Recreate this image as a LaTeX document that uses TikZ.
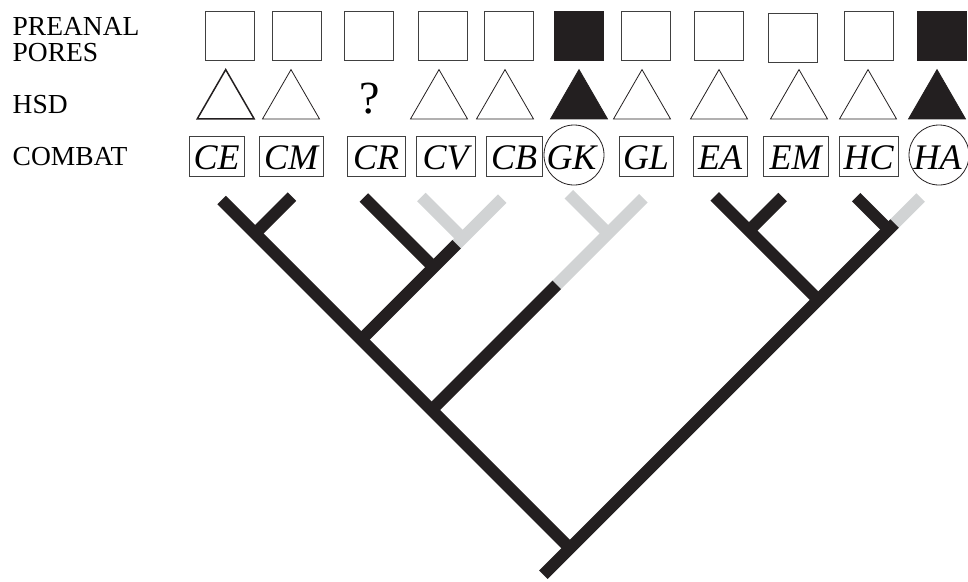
\documentclass[tikz,border=0pt]{standalone}
\usepackage{fontspec}
\setmainfont{Liberation Serif}
\usetikzlibrary{shapes.geometric}
\definecolor{ink}{HTML}{231F20}
\definecolor{pale}{HTML}{D1D3D4}
\begin{document}
\begin{tikzpicture}[x=1pt,y=-1pt,
  lab/.style={font=\fontsize{27.5}{26}\selectfont, inner sep=0pt, anchor=base west, align=left},
  sqbox/.style={draw=black!75, line width=1pt, minimum size=49pt, inner sep=0pt},
  sqfill/.style={sqbox, fill=ink, draw=ink},
  tri/.style={regular polygon, regular polygon sides=3, minimum size=65.8pt, inner sep=0pt, draw=ink, line width=0.8pt},
  trifill/.style={tri, fill=ink},
  taxc/.style={font=\fontsize{36}{40}\selectfont\itshape, inner sep=0pt, text height=33pt, text depth=7pt, anchor=base},
  taxon/.style={taxc, draw=black!75, line width=0.9pt},
  ring/.style={draw=ink, line width=0.8pt},
  branch/.style={draw=ink, line width=12pt},
  gbranch/.style={draw=pale, line width=12pt}]
\useasboundingbox (0,0) rectangle (968,581);

% row labels
\node[lab] (pre) at (12.5,61) {PREANAL\\PORES};
\node[lab] (hsd) at (12.5,113.3) {HSD};
\node[lab] (cmb) at (12.5,165.7) {COMBAT};

% preanal pores
\node[sqbox]  (p1)  at (229.5,35.5) {};
\node[sqbox]  (p2)  at (296.5,35.5) {};
\node[sqbox]  (p3)  at (368.5,35.5) {};
\node[sqbox]  (p4)  at (442.5,35.5) {};
\node[sqbox]  (p5)  at (508.5,35.5) {};
\node[sqfill] (p6)  at (578.5,35.5) {};
\node[sqbox]  (p7)  at (645.5,35.5) {};
\node[sqbox]  (p8)  at (718.5,35.5) {};
\node[sqbox]  (p9)  at (792.5,37.5) {};
\node[sqbox]  (p10) at (869,35.5) {};
\node[sqfill] (p11) at (941.5,35.5) {};

% HSD
\node[tri, line width=1.5pt] (h1) at (225.7,102.5) {};
\node[tri]     (h2)  at (291,102.5) {};
\node[font=\fontsize{46}{46}\selectfont, inner sep=0pt, anchor=base] (h3) at (370,113.3) {?};
\node[tri]     (h4)  at (439,102.5) {};
\node[tri]     (h5)  at (505,102.5) {};
\node[trifill] (h6)  at (579,102.5) {};
\node[tri]     (h7)  at (642,102.5) {};
\node[tri]     (h8)  at (719,102.5) {};
\node[tri]     (h9)  at (799,102.5) {};
\node[tri]     (h10) at (868,102.5) {};
\node[trifill] (h11) at (937,102.5) {};

% combat
\node[taxon, minimum width=55pt] (CE) at (216.5,169) {CE};
\node[taxon, minimum width=64pt] (CM) at (291,169) {CM};
\node[taxon, minimum width=58pt] (CR) at (376,169) {CR};
\node[taxon, minimum width=59pt] (CV) at (445.5,169) {CV};
\node[taxon, minimum width=56pt] (CB) at (514,169) {CB};
\node[taxc] (GK) at (571.5,169) {GK};
\draw[ring] (574,155) circle (30);
\node[taxon, minimum width=54pt] (GL) at (646,169) {GL};
\node[taxon, minimum width=54pt] (EA) at (720,169) {EA};
\node[taxon, minimum width=65pt] (EM) at (795.5,169) {EM};
\node[taxon, minimum width=59pt] (HC) at (868.5,169) {HC};
\node[taxc] (HA) at (937.5,169) {HA};
\draw[ring] (939,155) circle (30);

% tree coordinates
\coordinate (tCE) at (221.7,200);
\coordinate (tCM) at (292,196.7);
\coordinate (nCECM) at (255.2,233.5);
\coordinate (tCR) at (363.8,197.5);
\coordinate (tCV) at (421.3,197);
\coordinate (tCB) at (502.2,198.7);
\coordinate (nCVCB) at (462.6,238.3);
\coordinate (gCB) at (456.6,244.3);
\coordinate (nCR) at (433.6,267.3);
\coordinate (nC) at (361.3,339.6);
\coordinate (tGK) at (568.8,194.2);
\coordinate (tGL) at (643.3,198.3);
\coordinate (nG) at (608.1,233.5);
\coordinate (gG) at (556.7,284.9);
\coordinate (nGC) at (431.65,409.95);
\coordinate (root) at (569.9,548.2);
\coordinate (stub) at (543.3,574.7);
\coordinate (tEA) at (714.7,196.3);
\coordinate (tEM) at (782.5,197);
\coordinate (nE) at (749,230.5);
\coordinate (nEH) at (818.2,299.8);
\coordinate (tHC) at (856.2,197.2);
\coordinate (nH) at (888.5,229.5);
\coordinate (gHA) at (894.5,223.5);
\coordinate (tHA) at (920.5,197.5);

% grey branches
\draw[gbranch] (tHA) -- (gHA);
\draw[gbranch] (tCB) -- (gCB);
\draw[gbranch] (tCV) -- (nCVCB);
\draw[gbranch] (tGL) -- (gG);
\draw[gbranch] (tGK) -- (nG);

% black branches
\draw[branch] (tCE) -- (root);
\draw[branch] (gHA) -- (stub);
\draw[branch] (tCM) -- (nCECM);
\draw[branch] (gCB) -- (nC);
\draw[branch] (tCR) -- (nCR);
\draw[branch] (gG) -- (nGC);
\draw[branch] (tEA) -- (nEH);
\draw[branch] (tEM) -- (nE);
\draw[branch] (tHC) -- (nH);
\end{tikzpicture}
\end{document}
